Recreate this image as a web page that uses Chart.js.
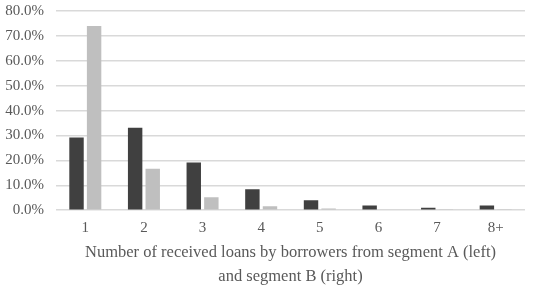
<!DOCTYPE html>
<html><head><meta charset="utf-8">
<script src="https://cdn.jsdelivr.net/npm/chart.js@4.4.0/dist/chart.umd.min.js"></script>
<style>html,body{margin:0;padding:0;background:#fff}#c{width:550px;height:290px}</style>
</head><body><div id="c"><canvas id="cv" width="550" height="290"></canvas></div>
<script>
const categories = ["1","2","3","4","5","6","7","8+"];
const segmentA = [29.2, 33.1, 19.1, 8.4, 4.0, 1.9, 1.0, 1.9];
const segmentB = [74.0, 16.6, 5.2, 1.6, 0.7, 0.3, 0.2, 0.4];
const yTicks = [0,10,20,30,40,50,60,70,80];
const fontFam = "'Liberation Serif', serif";
new Chart(document.getElementById('cv'), {
  type: 'bar',
  data: { labels: categories, datasets: [
    { label: 'Segment A', data: segmentA, backgroundColor: '#404040', barPercentage: 0.82, categoryPercentage: 0.6 },
    { label: 'Segment B', data: segmentB, backgroundColor: '#bfbfbf', barPercentage: 0.82, categoryPercentage: 0.6 }
  ]},
  options: {
    responsive: false, animation: false,
    layout: { padding: { top: 0, right: 25, left: 0, bottom: 1 } },
    plugins: { legend: { display: false }, tooltip: { enabled: false } },
    scales: {
      x: {
        grid: { display: false, drawTicks: false }, border: { display: false },
        ticks: { color: '#595959', font: { family: fontFam, size: 15, lineHeight: 1.2 }, padding: 9, maxRotation: 0 },
        title: { display: true, text: ["Number of received loans by borrowers from segment A (left)", "and segment B (right)"],
                 color: '#595959', font: { family: fontFam, size: 16.5, lineHeight: 1.45 }, padding: { top: -5, bottom: 0 } }
      },
      y: {
        min: 0, max: 80,
        afterBuildTicks: (ax) => { ax.ticks = yTicks.map(v => ({ value: v })); },
        afterFit: (ax) => { ax.width = 56; ax.paddingTop = 11; ax.paddingBottom = 0; },
        grid: { color: '#d9d9d9', lineWidth: 1.5, drawTicks: false },
        border: { display: false },
        ticks: { color: '#595959', font: { family: fontFam, size: 15 }, padding: 12,
                 callback: (v) => v.toFixed(1) + '%' }
      }
    }
  }
});
</script></body></html>
